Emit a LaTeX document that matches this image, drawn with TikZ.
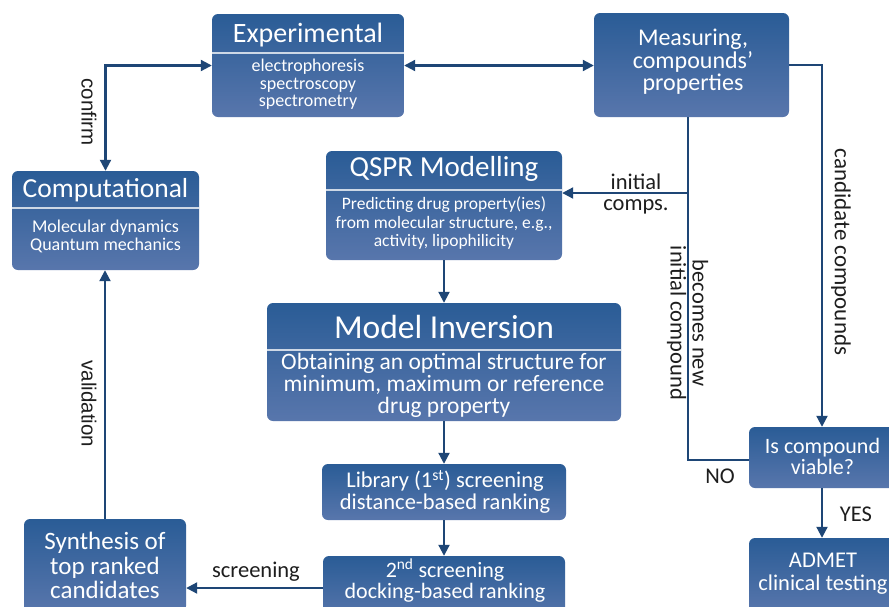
\documentclass[tikz,border=0pt]{standalone}
\usepackage{fontspec}
\setmainfont{Carlito}
\newfontfamily\arialf{Liberation Sans}
\usetikzlibrary{arrows.meta}
\definecolor{boxtop}{RGB}{42,92,150}
\definecolor{boxbot}{RGB}{88,118,172}
\definecolor{navy}{RGB}{30,70,118}
\definecolor{lbltext}{RGB}{30,30,30}
\tikzset{
 box/.style={rounded corners=6pt, top color=boxtop, bottom color=boxbot, draw=none, inner sep=0pt},
 txt/.style={text=white, align=center, inner sep=0pt},
 divider/.style={draw=white, draw opacity=0.75, line width=1.3pt},
 conn/.style={draw=navy, line width=2.1pt},
 arr/.style={conn, -{Triangle[length=11pt,width=11pt]}},
 darr/.style={conn, {Triangle[length=11pt,width=11pt]}-{Triangle[length=11pt,width=11pt]}},
 lbl/.style={text=lbltext, align=center, inner sep=0pt},
}
\newcommand{\fs}[2]{\fontsize{#1}{#2}\selectfont}
\begin{document}
\begin{tikzpicture}[x=1pt,y=-1pt]
\clip (0,0) rectangle (889,606);
\fill[white] (0,0) rectangle (889,606);

% boxes
\node[box, minimum width=192pt, minimum height=103pt] (exp) at (308,65.5) {};
\node[box, minimum width=195pt, minimum height=104pt] (meas) at (691.5,65) {};
\node[box, minimum width=187pt, minimum height=99pt] (comp) at (105.5,220.5) {};
\node[box, minimum width=236pt, minimum height=109pt] (qspr) at (444,205.5) {};
\node[box, minimum width=354pt, minimum height=118pt] (mi) at (444,362) {};
\node[box, minimum width=244pt, minimum height=56pt] (lib) at (444,492) {};
\node[box, minimum width=242pt, minimum height=64pt] (scr) at (444,588) {};
\node[box, minimum width=162pt, minimum height=93pt] (syn) at (105,565.5) {};
\node[box, minimum width=146pt, minimum height=61pt] (viab) at (822,457.5) {};
\node[box, minimum width=146pt, minimum height=74pt] (admet) at (822,575) {};

% dividers
\draw[divider] (exp.west |- 0,53) -- (exp.east |- 0,53);
\draw[divider] (comp.west |- 0,208) -- (comp.east |- 0,208);
\draw[divider] (qspr.west |- 0,190) -- (qspr.east |- 0,190);
\draw[divider] (mi.west |- 0,350) -- (mi.east |- 0,350);

% box texts
\node[txt, font=\fs{28}{30}] (expT) at (308,35) {Experimental};
\node[txt, font=\fs{18}{17.5}] (expB) at (308,84.5) {electrophoresis\\spectroscopy\\spectrometry};
\node[txt, font=\fs{24}{22.5}] (measT) at (693,62) {Measuring,\\compounds’\\properties};
\node[txt, font=\fs{27.5}{30}] (compT) at (105.5,190) {Computational};
\node[txt, font=\fs{18}{17.5}] (compB) at (105.5,236.5) {Molecular dynamics\\Quantum mechanics};
\node[txt, font=\fs{29}{30}] (qsprT) at (444,169) {QSPR Modelling};
\node[txt, font=\fs{17.5}{18.5}] (qsprB) at (444,223.5) {Predicting drug property(ies)\\from molecular structure, e.g.,\\activity, lipophilicity};
\node[txt, font=\fs{33.5}{34}] (miT) at (444,327) {Model Inversion};
\node[txt, font=\fs{23.5}{22}] (miB) at (444,385) {Obtaining an optimal structure for\\minimum, maximum or reference\\drug property};
\node[txt, font=\fs{22.5}{21.5}] (libT) at (445,491.5) {Library (1\textsuperscript{st}) screening\\distance-based ranking};
\node[txt, font=\fs{22}{21.5}] (scrT) at (445,581) {2\textsuperscript{nd} screening\\docking-based ranking};
\node[txt, font=\fs{25}{24.5}] (synT) at (105,565.5) {Synthesis of\\top ranked\\candidates};
\node[txt, font=\fs{22}{21.5}] (viabT) at (822.5,456.5) {Is compound\\viable?};
\node[txt, font=\fs{22.5}{23}] (admetT) at (823,573.5) {ADMET\\clinical testing};

% connectors
\draw[darr] (exp.east) -- (exp.east -| meas.west);
\draw[darr] (exp.west) -| (comp.north);
\coordinate (j1) at (688,193);
\coordinate (j2) at (688,460);
\draw[conn] (meas.south -| j1) -- (j1);
\draw[arr] (j1) -- (j1 -| qspr.east);
\draw[conn] (j2 -| viab.west) -- (j2) -- (j1);
\draw[arr] (meas.east) -| (viab.north);
\draw[arr] (viab.south) -- (admet.north);
\draw[arr] (qspr.south) -- (mi.north);
\draw[arr] (mi.south) -- (mi.south |- lib.north);
\draw[arr] (lib.south) -- (lib.south |- scr.north);
\draw[arr] (scr.west) -- (scr.west -| syn.east);
\draw[arr] (syn.north) -- (syn.north |- comp.south);

% labels
\node[lbl, rotate=-90, font=\arialf\fs{20.5}{22}] (lconfirm) at (89,112) {confirm};
\node[lbl, rotate=-90, font=\arialf\fs{20.5}{22}] (lvalid) at (89,404) {validation};
\node[lbl, font=\fs{22.5}{20.5}] (linit) at (636,194) {initial\\comps.};
\node[lbl, rotate=-90, font=\fs{22.5}{22}] (lbecome) at (687.5,323) {becomes new\\initial compound};
\node[lbl, rotate=-90, font=\fs{23}{24}] (lcand) at (841,252) {candidate compounds};
\node[lbl, font=\fs{22.5}{24}] (lno) at (720,476) {NO};
\node[lbl, font=\fs{22.5}{24}] (lyes) at (856,514) {YES};
\node[lbl, font=\fs{22.5}{24}] (lscr) at (256,572) {screening};
\end{tikzpicture}
\end{document}
